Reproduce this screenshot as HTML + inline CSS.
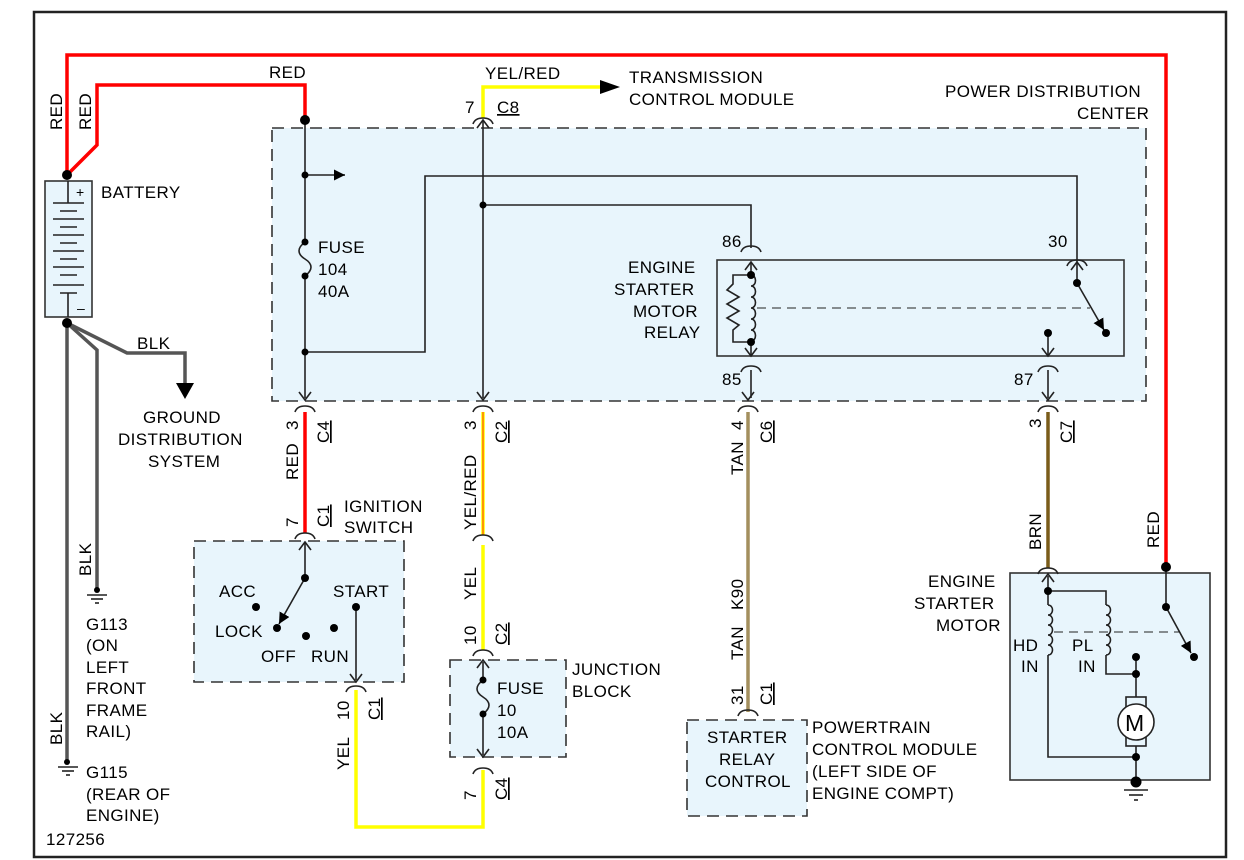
<!DOCTYPE html>
<html><head><meta charset="utf-8"><style>
html,body{margin:0;padding:0;background:#fff}
svg{display:block}
text{font-family:"Liberation Sans",sans-serif;font-size:17px;fill:#000;letter-spacing:0.4px}
</style></head><body>
<svg width="1244" height="860" viewBox="0 0 1244 860" xmlns="http://www.w3.org/2000/svg">
<defs>
<marker id="ah" viewBox="0 0 10 10" refX="10" refY="5" markerWidth="7" markerHeight="7" orient="auto"><path d="M0,0 L10,5 L0,10 z" fill="#000"/></marker>
</defs>
<rect x="34" y="12" width="1192" height="845" fill="#fff" stroke="#222" stroke-width="2.5"/>

<rect x="272" y="128" width="874" height="273" fill="#e8f5fc" stroke="#333" stroke-width="1.6" stroke-dasharray="12,7"/>
<rect x="717" y="260" width="407" height="96" fill="#e8f5fc" stroke="#333" stroke-width="1.6"/>
<rect x="194" y="541" width="210" height="141" fill="#e8f5fc" stroke="#333" stroke-width="1.6" stroke-dasharray="12,7"/>
<rect x="450" y="660" width="116" height="97" fill="#e8f5fc" stroke="#333" stroke-width="1.6" stroke-dasharray="12,7"/>
<rect x="687" y="720" width="120" height="96" fill="#e8f5fc" stroke="#333" stroke-width="1.6" stroke-dasharray="12,7"/>
<rect x="1010" y="573" width="200" height="207" fill="#e8f5fc" stroke="#333" stroke-width="1.6"/>
<rect x="45" y="181" width="47" height="136" fill="#e8f5fc" stroke="#333" stroke-width="1.6"/>

<g stroke="#222" stroke-width="1.6">
<line x1="68" y1="181" x2="68" y2="203"/>
<line x1="53" y1="203" x2="84" y2="203"/><line x1="60" y1="211" x2="77" y2="211"/>
<line x1="53" y1="219" x2="84" y2="219"/><line x1="60" y1="227" x2="77" y2="227"/>
<line x1="53" y1="235" x2="84" y2="235"/><line x1="60" y1="243" x2="77" y2="243"/>
<line x1="53" y1="251" x2="84" y2="251"/><line x1="60" y1="259" x2="77" y2="259"/>
<line x1="53" y1="267" x2="84" y2="267"/><line x1="60" y1="275" x2="77" y2="275"/>
<line x1="53" y1="285" x2="84" y2="285"/><line x1="60" y1="293" x2="77" y2="293"/>
<line x1="68" y1="293" x2="68" y2="317"/>
</g>
<text x="76" y="197" style="font-size:14px">+</text><text x="77" y="313" style="font-size:14px">–</text>

<g fill="none" stroke="#ff0000" stroke-width="3.5">
<polyline points="67,175 67,55 1166,55 1166,567"/>
<polyline points="67,175 97,145 97,85 305,85 305,120"/>
<line x1="305" y1="412" x2="305" y2="533"/>
</g>
<g fill="none" stroke="#555" stroke-width="3.5">
<polyline points="67,323 67,760"/>
<polyline points="67,323 97,350 97,588"/>
<polyline points="67,323 127,353 185,353 185,385"/>
</g>
<polygon points="176,383 194,383 185,399" fill="#000"/>
<g fill="none" stroke="#ffff00" stroke-width="3.5">
<polyline points="483,118 483,87 600,87"/>
<line x1="483" y1="545" x2="483" y2="650"/>
<polyline points="356,690 356,827 483,827 483,770"/>
<line x1="483" y1="412" x2="483" y2="535"/>
</g>
<line x1="483" y1="412" x2="483" y2="535" stroke="#ff3000" stroke-width="1"/>
<polygon points="600,80 620,87 600,94" fill="#000"/>
<line x1="748" y1="412" x2="748" y2="712" stroke="#a38f5e" stroke-width="3.5"/>
<line x1="1048" y1="412" x2="1048" y2="568" stroke="#7a5c1a" stroke-width="3.5"/>

<g fill="none" stroke="#222" stroke-width="1.6">
<line x1="305" y1="120" x2="305" y2="242"/>
<path d="M305,242 c-8,6 -8,12 0,17 c8,5 8,11 0,17"/>
<line x1="305" y1="276" x2="305" y2="398"/>
<line x1="305" y1="175" x2="336" y2="175"/>
<polyline points="305,352 425,352 425,176 1077,176 1077,262"/>
<line x1="483" y1="120" x2="483" y2="398"/>
<polyline points="483,205 751,205 751,248"/>
<line x1="751" y1="262" x2="751" y2="275"/>
<path d="M751,275 c6,0 6,11 0,11 c6,0 6,11 0,11 c6,0 6,11 0,11 c6,0 6,11 0,11 c6,0 6,11 0,11 c6,0 6,11 0,11"/>
<polyline points="751,275 733,275 733,284 727,290 739,297 727,304 739,311 727,318 739,325 733,330 733,342 751,342"/>
<line x1="751" y1="342" x2="751" y2="355"/>
<line x1="751" y1="370" x2="751" y2="398"/>
<line x1="1077" y1="262" x2="1077" y2="283"/>
<line x1="1048" y1="333" x2="1048" y2="355"/>
<line x1="1048" y1="370" x2="1048" y2="398"/>
<line x1="305" y1="542" x2="305" y2="578"/>
<line x1="356" y1="607" x2="356" y2="680"/>
<line x1="483" y1="662" x2="483" y2="680"/>
<path d="M483,680 c-8,6 -8,12 0,17 c8,5 8,11 0,17"/>
<line x1="483" y1="714" x2="483" y2="755"/>
<polyline points="1048,576 1048,605"/>
<path d="M1048,605 c6,0 6,10 0,10 c6,0 6,10 0,10 c6,0 6,10 0,10 c6,0 6,10 0,10 c6,0 6,10 0,10"/>
<polyline points="1048,655 1048,757 1136,757"/>
<polyline points="1048,591 1106,591 1106,605"/>
<path d="M1106,605 c6,0 6,10 0,10 c6,0 6,10 0,10 c6,0 6,10 0,10 c6,0 6,10 0,10 c6,0 6,10 0,10"/>
<polyline points="1106,655 1106,674 1136,674"/>
<line x1="1136" y1="657" x2="1136" y2="697"/>
<line x1="1136" y1="746" x2="1136" y2="782"/>
<line x1="1166" y1="567" x2="1166" y2="607"/>
</g>
<g stroke="#222" stroke-width="1.6" fill="none">
<line x1="305" y1="578" x2="279" y2="624" marker-end="url(#ah)"/>
<line x1="1077" y1="283" x2="1104" y2="330" marker-end="url(#ah)"/>
<line x1="1166" y1="607" x2="1191" y2="653" marker-end="url(#ah)"/>
<line x1="336" y1="175" x2="345" y2="175" marker-end="url(#ah)"/>
<line x1="757" y1="308" x2="1090" y2="308" stroke-dasharray="9,6" stroke-width="1"/>
<line x1="1054" y1="632" x2="1180" y2="632" stroke-dasharray="9,6" stroke-width="1"/>
<rect x="1126" y="697" width="20" height="49" fill="#e8f5fc"/>
<circle cx="1136" cy="722" r="18" fill="#fff"/>
<line x1="1124" y1="790" x2="1148" y2="790"/><line x1="1129" y1="795" x2="1143" y2="795"/><line x1="1134" y1="800" x2="1138" y2="800"/>
<line x1="87" y1="595" x2="107" y2="595"/><line x1="91" y1="599" x2="103" y2="599"/><line x1="95" y1="603" x2="99" y2="603"/>
<line x1="58" y1="767" x2="78" y2="767"/><line x1="62" y1="771" x2="74" y2="771"/><line x1="66" y1="775" x2="70" y2="775"/>
</g>
<text x="1125" y="731" style="font-size:23px;letter-spacing:0">M</text>

<g stroke="#222" stroke-width="1.6" fill="none">
<path d="M295,412 q2,-6 10,-6 q8,0 10,6"/><path d="M473,412 q2,-6 10,-6 q8,0 10,6"/>
<path d="M738,412 q2,-6 10,-6 q8,0 10,6"/><path d="M1038,412 q2,-6 10,-6 q8,0 10,6"/>
<path d="M741,252 q2,-6 10,-6 q8,0 10,6"/><path d="M1067,266 q2,-6 10,-6 q8,0 10,6"/>
<path d="M741,372 q2,-6 10,-6 q8,0 10,6"/><path d="M1038,372 q2,-6 10,-6 q8,0 10,6"/>
<path d="M473,124 q2,-6 10,-6 q8,0 10,6"/>
<path d="M295,539 q2,-6 10,-6 q8,0 10,6"/><path d="M473,541 q2,-6 10,-6 q8,0 10,6"/>
<path d="M473,656 q2,-6 10,-6 q8,0 10,6"/><path d="M346,692 q2,-6 10,-6 q8,0 10,6"/>
<path d="M473,774 q2,-6 10,-6 q8,0 10,6"/><path d="M738,716 q2,-6 10,-6 q8,0 10,6"/>
<path d="M1038,574 q2,-6 10,-6 q8,0 10,6"/>
<polyline points="299,392 305,400 311,392"/><polyline points="477,392 483,400 489,392"/>
<polyline points="742,392 748,400 754,392"/><polyline points="1042,392 1048,400 1054,392"/>
<polyline points="745,270 751,262 757,270"/><polyline points="1071,270 1077,262 1083,270"/>
<polyline points="745,348 751,356 757,348"/><polyline points="1042,348 1048,356 1054,348"/>
<polyline points="477,128 483,120 489,128"/>
<polyline points="299,550 305,542 311,550"/><polyline points="350,674 356,682 362,674"/>
<polyline points="477,668 483,660 489,668"/><polyline points="477,749 483,757 489,749"/>
<polyline points="1042,582 1048,574 1054,582"/>
</g>
<g fill="#000">
<circle cx="67" cy="175" r="5"/><circle cx="67" cy="323" r="5"/><circle cx="305" cy="120" r="5"/>
<circle cx="305" cy="175" r="3.5"/><circle cx="305" cy="242" r="3.5"/><circle cx="305" cy="276" r="3.5"/><circle cx="305" cy="352" r="3.5"/>
<circle cx="483" cy="205" r="3.5"/><circle cx="751" cy="275" r="4"/><circle cx="751" cy="342" r="4"/>
<circle cx="1077" cy="283" r="4"/><circle cx="1106" cy="333" r="4"/><circle cx="1048" cy="333" r="4"/>
<circle cx="305" cy="578" r="4"/><circle cx="277" cy="628" r="4"/><circle cx="256" cy="607" r="4"/><circle cx="306" cy="636" r="4"/><circle cx="334" cy="628" r="4"/><circle cx="356" cy="607" r="4"/>
<circle cx="483" cy="680" r="3.5"/><circle cx="483" cy="714" r="3.5"/>
<circle cx="1048" cy="591" r="4"/><circle cx="1136" cy="657" r="4"/><circle cx="1136" cy="674" r="4"/><circle cx="1136" cy="757" r="4"/><circle cx="1136" cy="782" r="5.5"/>
<circle cx="1166" cy="567" r="5"/><circle cx="1166" cy="607" r="4"/><circle cx="1194" cy="657" r="4"/>
<circle cx="97" cy="590" r="3"/><circle cx="67" cy="762" r="3"/>
</g>

<text x="269" y="78">RED</text>
<text x="485" y="79">YEL/RED</text>
<text x="629" y="83">TRANSMISSION</text><text x="629" y="105">CONTROL MODULE</text>
<text x="945" y="97">POWER DISTRIBUTION</text><text x="1077" y="119">CENTER</text>
<text x="465" y="113">7</text><text x="497" y="113" text-decoration="underline">C8</text>
<text x="101" y="198">BATTERY</text>
<text x="318" y="253">FUSE</text><text x="318" y="275">104</text><text x="318" y="297">40A</text>
<text x="628" y="273">ENGINE</text><text x="614" y="295">STARTER</text><text x="633" y="317">MOTOR</text><text x="644" y="338">RELAY</text>
<text x="722" y="247">86</text><text x="1048" y="247">30</text><text x="722" y="385">85</text><text x="1014" y="385">87</text>
<text x="137" y="349">BLK</text>
<text x="143" y="423">GROUND</text><text x="118" y="445">DISTRIBUTION</text><text x="148" y="467">SYSTEM</text>
<text x="344" y="512">IGNITION</text><text x="344" y="533">SWITCH</text>
<text x="219" y="597">ACC</text><text x="333" y="597">START</text><text x="215" y="637">LOCK</text><text x="261" y="662">OFF</text><text x="311" y="662">RUN</text>
<text x="497" y="694">FUSE</text><text x="497" y="716">10</text><text x="497" y="738">10A</text>
<text x="572" y="675">JUNCTION</text><text x="572" y="697">BLOCK</text>
<text x="707" y="743">STARTER</text><text x="719" y="765">RELAY</text><text x="705" y="787">CONTROL</text>
<text x="812" y="733">POWERTRAIN</text><text x="812" y="755">CONTROL MODULE</text><text x="812" y="777">(LEFT SIDE OF</text><text x="812" y="799">ENGINE COMPT)</text>
<text x="928" y="587">ENGINE</text><text x="914" y="609">STARTER</text><text x="936" y="631">MOTOR</text>
<text x="1013" y="651">HD</text><text x="1021" y="672">IN</text><text x="1072" y="651">PL</text><text x="1078" y="672">IN</text>
<text x="86" y="630">G113</text><text x="86" y="651">(ON</text><text x="86" y="673">LEFT</text><text x="86" y="694">FRONT</text><text x="86" y="716">FRAME</text><text x="86" y="737">RAIL)</text>
<text x="86" y="778">G115</text><text x="86" y="800">(REAR OF</text><text x="86" y="821">ENGINE)</text>
<text x="46" y="845">127256</text>
<g>
<text transform="translate(62,130) rotate(-90)">RED</text>
<text transform="translate(91,130) rotate(-90)">RED</text>
<text transform="translate(298,480) rotate(-90)">RED</text>
<text transform="translate(298,430) rotate(-90)">3</text>
<text transform="translate(329,443) rotate(-90)" text-decoration="underline">C4</text>
<text transform="translate(298,527) rotate(-90)">7</text>
<text transform="translate(329,527) rotate(-90)" text-decoration="underline">C1</text>
<text transform="translate(476,530) rotate(-90)">YEL/RED</text>
<text transform="translate(476,430) rotate(-90)">3</text>
<text transform="translate(507,443) rotate(-90)" text-decoration="underline">C2</text>
<text transform="translate(476,600) rotate(-90)">YEL</text>
<text transform="translate(476,645) rotate(-90)">10</text>
<text transform="translate(507,645) rotate(-90)" text-decoration="underline">C2</text>
<text transform="translate(349,770) rotate(-90)">YEL</text>
<text transform="translate(349,720) rotate(-90)">10</text>
<text transform="translate(380,720) rotate(-90)" text-decoration="underline">C1</text>
<text transform="translate(476,800) rotate(-90)">7</text>
<text transform="translate(507,800) rotate(-90)" text-decoration="underline">C4</text>
<text transform="translate(743,475) rotate(-90)">TAN</text>
<text transform="translate(743,430) rotate(-90)">4</text>
<text transform="translate(772,443) rotate(-90)" text-decoration="underline">C6</text>
<text transform="translate(743,610) rotate(-90)">K90</text>
<text transform="translate(743,660) rotate(-90)">TAN</text>
<text transform="translate(743,705) rotate(-90)">31</text>
<text transform="translate(772,705) rotate(-90)" text-decoration="underline">C1</text>
<text transform="translate(1041,428) rotate(-90)">3</text>
<text transform="translate(1072,443) rotate(-90)" text-decoration="underline">C7</text>
<text transform="translate(1041,550) rotate(-90)">BRN</text>
<text transform="translate(1159,548) rotate(-90)">RED</text>
<text transform="translate(91,576) rotate(-90)">BLK</text>
<text transform="translate(62,745) rotate(-90)">BLK</text>
</g>
</svg>
</body></html>
